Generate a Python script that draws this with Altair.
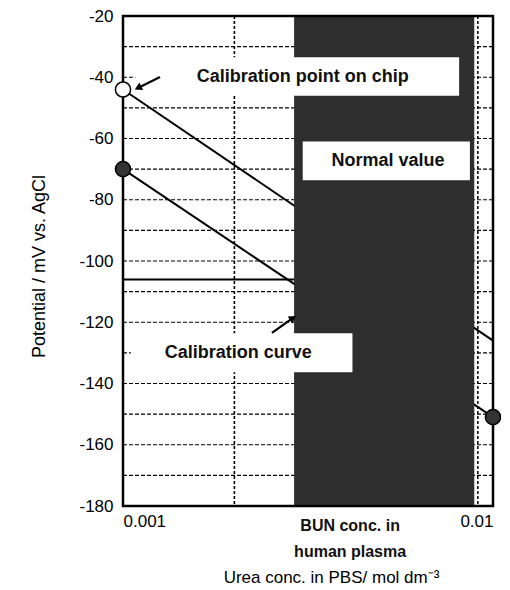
import altair as alt
import pandas as pd

# ---- data ----
x_domain = [0.001, 0.01]
y_domain = [-180, -20]
x_ticks = [0.001, 0.01]
y_ticks = [-180, -160, -140, -120, -100, -80, -60, -40, -20]
grid_y = [-170, -160, -150, -140, -130, -120, -110, -100, -90, -80, -70, -60, -50, -40, -30]
grid_x = [0.002]
strip_x = [0.0091]

# calibration lines (on-chip point line and calibration curve)
line_name = ["chip", "chip", "curve", "curve"]
line_x = [0.001, 0.01, 0.001, 0.01]
line_y = [-44, -126, -70, -151]

# horizontal reference line
ref_x = [0.001, 0.0029]
ref_y = [-106, -106]

# normal value band of BUN in human plasma
band_x = [0.0029, 0.0089]

# markers
pt_x = [0.001, 0.001, 0.01]
pt_y = [-44, -70, -151]
pt_kind = ["open", "filled", "filled"]

# annotation boxes / texts
box_x = [0.00108, 0.00306, 0.00105]
box_x2 = [0.0081, 0.00866, 0.00417]
box_y = [-33.5, -61, -123.6]
box_y2 = [-46, -73.6, -136.3]
label_text = ["Calibration point on chip", "Normal value", "Calibration curve"]
label_x = [0.00306, 0.0052, 0.00205]
label_y = [-39.8, -67.3, -130]

bun_text = ["BUN conc. in", "human plasma"]
bun_x = [0.00411, 0.00411]
bun_y = [-186.5, -195]

arrow_x = [0.001259, 0.002527]
arrow_y = [-39.9, -123.5]
arrow_x2 = [0.001098, 0.002881]
arrow_y2 = [-43.5, -118.6]
arrow_angle = [243, 55]

FONT = "Liberation Sans"
xs = alt.Scale(type="log", domain=x_domain, nice=False)
ys = alt.Scale(domain=y_domain, nice=False, zero=False)

grid_df = pd.DataFrame({"y": grid_y})
gridx_df = pd.DataFrame({"x": grid_x})
strip_df = pd.DataFrame({"x": strip_x})
line_df = pd.DataFrame({"name": line_name, "x": line_x, "y": line_y})
ref_df = pd.DataFrame({"x": ref_x, "y": ref_y})
band_df = pd.DataFrame({"x": [band_x[0]], "x2": [band_x[1]], "y": [y_domain[0]], "y2": [y_domain[1]]})
frame_df = pd.DataFrame({"x": [x_domain[0]], "x2": [x_domain[1]], "y": [y_domain[0]], "y2": [y_domain[1]]})
pt_df = pd.DataFrame({"x": pt_x, "y": pt_y, "kind": pt_kind})
box_df = pd.DataFrame({"x": box_x, "x2": box_x2, "y": box_y, "y2": box_y2})
lab_df = pd.DataFrame({"t": label_text, "x": label_x, "y": label_y})
bun_df = pd.DataFrame({"t": bun_text, "x": bun_x, "y": bun_y})
arr_df = pd.DataFrame({"x": arrow_x, "y": arrow_y, "x2": arrow_x2, "y2": arrow_y2, "a": arrow_angle})

x_axis = alt.Axis(values=x_ticks, format=".3~f", title="Urea conc. in PBS/ mol dm\u207b\u00b3",
                  labelFontSize=17, labelFont=FONT, labelColor="black", labelPadding=7,
                  ticks=False, domain=False, grid=False,
                  titleFont=FONT, titleFontSize=17, titleFontWeight="normal", titleColor="black",
                  titleX=208, titleY=71, titleAlign="center", titleBaseline="middle")
y_axis = alt.Axis(values=y_ticks, title="Potential / mV vs. AgCl",
                  labelExpr="toString(datum.value)",
                  labelFontSize=17, labelFont=FONT, labelColor="black", labelPadding=10,
                  ticks=False, domain=False, grid=False,
                  titleFont=FONT, titleFontSize=18, titleFontWeight="normal", titleColor="black",
                  titleX=-84, titleY=250, titleAngle=270, titleAlign="center", titleBaseline="middle")


def X(f):
    return alt.X(f, scale=xs, axis=x_axis)


def Y(f):
    return alt.Y(f, scale=ys, axis=y_axis)


grid = alt.Chart(grid_df).mark_rule(color="black", strokeWidth=1.2, strokeDash=[4, 2]).encode(
    y=Y("y:Q"), x=alt.value(0), x2=alt.value(370))
gridx = alt.Chart(gridx_df).mark_rule(color="black", strokeWidth=1.6, strokeDash=[3, 2]).encode(
    x=X("x:Q"))
ref = alt.Chart(ref_df).mark_line(color="black", strokeWidth=2).encode(x=X("x:Q"), y=Y("y:Q"))
lines = alt.Chart(line_df).mark_line(color="black", strokeWidth=2).encode(
    x=X("x:Q"), y=Y("y:Q"), detail="name:N")
band = alt.Chart(band_df).mark_rect(color="#2e2e2e").encode(
    x=X("x:Q"), x2="x2:Q", y=Y("y:Q"), y2="y2:Q")
strip = alt.Chart(strip_df).mark_rule(color="black", strokeWidth=1.5, strokeDash=[3, 2]).encode(
    x=X("x:Q"))
boxes = alt.Chart(box_df).mark_rect(color="white").encode(
    x=X("x:Q"), x2="x2:Q", y=Y("y:Q"), y2="y2:Q")
labels = alt.Chart(lab_df).mark_text(font=FONT, fontSize=18, fontWeight="bold", color="#111111",
                                     align="center", baseline="middle").encode(
    x=X("x:Q"), y=Y("y:Q"), text="t:N")
bun = alt.Chart(bun_df).mark_text(font=FONT, fontSize=16, fontWeight="bold", color="#111111",
                                  align="center", baseline="middle").encode(
    x=X("x:Q"), y=Y("y:Q"), text="t:N")
arr_line = alt.Chart(arr_df).mark_rule(color="black", strokeWidth=2.2).encode(
    x=X("x:Q"), y=Y("y:Q"), x2="x2:Q", y2="y2:Q")
arr_head = alt.Chart(arr_df).mark_point(shape="triangle-up", filled=True, color="black",
                                        size=70, opacity=1).encode(
    x=X("x2:Q"), y=Y("y2:Q"), angle=alt.Angle("a:Q", scale=None))
frame = alt.Chart(frame_df).mark_rect(fillOpacity=0, stroke="black", strokeWidth=2.5).encode(
    x=X("x:Q"), x2="x2:Q", y=Y("y:Q"), y2="y2:Q")
points = alt.Chart(pt_df).mark_point(filled=True, size=230, stroke="black", strokeWidth=1.5,
                                     opacity=1, shape="circle").encode(
    x=X("x:Q"), y=Y("y:Q"),
    fill=alt.Fill("kind:N", scale=alt.Scale(domain=["open", "filled"], range=["white", "#333333"]),
                  legend=None))

chart = alt.layer(grid, gridx, ref, lines, band, strip, boxes, labels, bun, arr_line, arr_head,
                  frame, points).properties(
    width=370, height=490,
    autosize=alt.AutoSizeParams(type="none"),
    padding={"left": 115, "top": 8, "right": 8, "bottom": 82},
).configure_view(stroke=None).configure(background="white")

chart.save("out.html", embed_options={"renderer": "svg", "actions": False})
